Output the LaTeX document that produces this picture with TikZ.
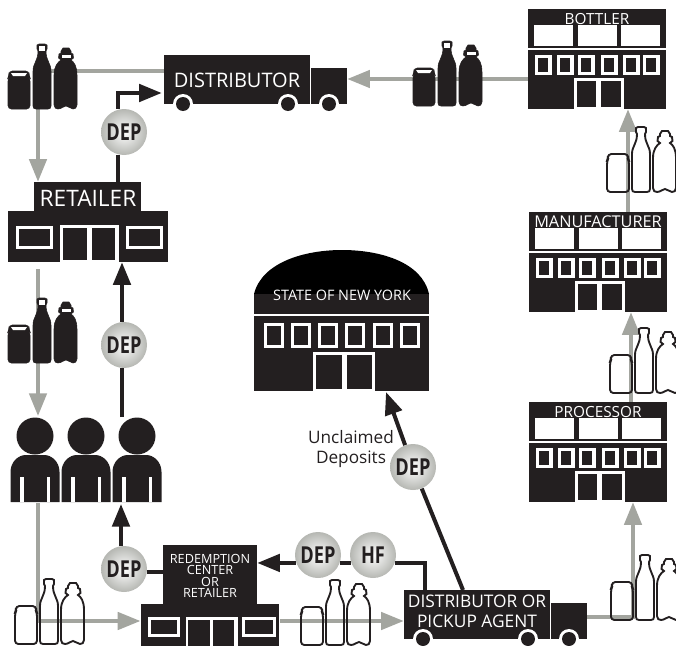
\documentclass[tikz,border=0pt]{standalone}
\usepackage{fontspec}
\setmainfont{Open Sans}
\newfontfamily\depfont[FakeStretch=0.78]{Open Sans}
\usetikzlibrary{arrows.meta}
\definecolor{ink}{HTML}{231F20}
\definecolor{rail}{HTML}{A3A59F}
\tikzset{
  blackbox/.style={fill=ink,inner sep=0pt},
  whitename/.style={text=white,inner sep=0pt,align=center},
  railline/.style={draw=rail,line width=2.7pt},
  railarrow/.style={railline,-{Triangle[length=17pt,width=13pt]}},
  inkline/.style={draw=ink,line width=3pt},
  inkarrow/.style={inkline,-{Triangle[length=17pt,width=13pt]}},
  token/.style={circle,minimum size=34.5pt,inner sep=0pt,text=ink,
    inner color=white,outer color=rail!80!white,font=\depfont\bfseries\fontsize{17.5}{18}\selectfont},
  solidset/.style={fill=ink,draw=ink,line width=0.4pt},
  lineset/.style={draw=ink,line width=1.4pt},
  pics/bottles/.style={code={
    % jar
    \path[pic actions,rounded corners=2.5] (1,-38) -- (21,-38) -- (21,-33) -- (22,-31)
      -- (22,0) -- (0,0) -- (0,-31) -- (1,-33) -- cycle;
    % glass bottle
    \path[pic actions] (25,-3) -- (25,-38) .. controls (25,-46) and (30,-48) .. (30,-58)
      -- (29,-60) -- (29,-64) -- (31,-65) -- (37,-65) -- (39,-64) -- (39,-60) -- (38,-58)
      .. controls (38,-48) and (43,-46) .. (43,-38) -- (43,-3)
      .. controls (43,-1) and (42,0) .. (40,0) -- (28,0) .. controls (26,0) and (25,-1) .. (25,-3) -- cycle;
    % plastic bottle
    \path[pic actions] (46,-4) -- (46,-34) .. controls (46,-43) and (50,-47) .. (53,-49)
      -- (50.5,-51) -- (51,-55) -- (53,-56) -- (53,-58) -- (55,-61) -- (61,-61) -- (63,-58)
      -- (63,-56) -- (65,-55) -- (65.5,-51) -- (63,-49) .. controls (66,-47) and (69,-43) .. (69,-34)
      -- (69,-4) .. controls (69,-1) and (67,0) .. (65,0) .. controls (62,0) and (61,-3) .. (58,-3)
      .. controls (55,-3) and (54,0) .. (50,0) .. controls (48,0) and (46,-1) .. (46,-4) -- cycle;
  }},
  pics/glints/.style={code={
    \fill[white] (3,-36) -- (19,-36) -- (17,-33) -- (5,-33) -- cycle;
    \fill[white] (31,-63) rectangle (37,-58.5);
    \fill[white] (53.5,-54.5) rectangle (62.5,-51);
  }},
  pics/factory/.style={code={
    \node[blackbox,minimum width=103.5pt,minimum height=75pt] (-body) at (69,50) {};
    \foreach \wx in {6,50,93} { \fill[white] (\wx,16) rectangle ++(39,21); }
    \draw[white,line width=0.8pt] (0,40) -- (138,40);
    \foreach \wx in {8.6,30.6,51.6,74.6,96.6,116.6} { \draw[white,line width=2.4pt] (\wx,47.6) rectangle ++(13.3,16.8); }
    \fill[white] (46,69) rectangle (96,100);
    \fill[ink] (49,72) rectangle (68,98);
    \fill[ink] (73,72) rectangle (93,98);
    \node[whitename] (-name) at (69,10) {#1};
  }},
  pics/truck/.style 2 args={code={
    \node[blackbox,minimum width=109.5pt,minimum height=36.75pt] (-body) at (73,24.5) {};
    \node[blackbox,minimum width=27pt,minimum height=27pt] (-cab) at (165,31) {};
    \node[whitename] (-name) at (73,#2) {#1};
    \foreach \wx in {19,124,165} {
      \fill[white] (\wx,49) circle (10);
      \fill[ink] (\wx,49) circle (7);
    }
  }},
  pics/person/.style={code={
    \node[circle,fill=ink,minimum size=27.75pt,inner sep=0pt] (-head) at (0,0) {};
    \fill[ink] (-24.5,66) -- (-24.5,36) .. controls (-24.5,26) and (-17,19) .. (-9,19)
      -- (9,19) .. controls (17,19) and (24.5,26) .. (24.5,36) -- (24.5,66) -- cycle;
    \fill[white] (-14.6,41) rectangle (-11.3,66);
    \fill[white] (12,41) rectangle (15.3,66);
  }},
}
\begin{document}
\begin{tikzpicture}[x=0.75pt,y=-0.75pt]
  \useasboundingbox (0,0) rectangle (676,646);
  \clip (0,0) rectangle (676,646);

  % plants on the right
  \pic[font=\fontsize{11.5}{12}\selectfont] (bottler) at (528,9) {factory=BOTTLER};
  \pic[font=\fontsize{12.2}{12}\selectfont] (manufacturer) at (529,212) {factory=MANUFACTURER};
  \pic[font=\fontsize{11.5}{12}\selectfont] (processor) at (529,402) {factory=PROCESSOR};

  % trucks
  \pic[font=\fontsize{15}{18}\selectfont] (distributor) at (164,55) {truck={DISTRIBUTOR}{25}};
  \pic[font=\fontsize{13}{15}\selectfont] (agent) at (404,590) {truck={DISTRIBUTOR OR\\PICKUP AGENT}{21.5}};

  % retailer
  \node[blackbox,minimum width=120pt,minimum height=38.25pt] (retailer) at (88,236.5) {};
  \node[blackbox,minimum width=80.25pt,minimum height=21.75pt] (retailertop) at (87.5,196.5) {};
  \node[whitename,font=\fontsize{17}{18}\selectfont] (retailername) at (88,198) {RETAILER};
  \draw[white,line width=2.2pt] (17.5,227.5) rectangle (51.5,247.5);
  \draw[white,line width=2.2pt] (127.5,227.5) rectangle (161.5,247.5);
  \fill[white] (60,225) rectangle (119,262);
  \fill[ink] (63,228) rectangle (87,260);
  \fill[ink] (92,228) rectangle (115,260);

  % redemption center
  \node[blackbox,minimum width=104pt,minimum height=31.5pt] (redemption) at (210,625) {};
  \node[blackbox,minimum width=70.5pt,minimum height=44.25pt] (redemptiontop) at (210,574.5) {};
  \node[whitename,font=\fontsize{9.5}{8.6}\selectfont] (redemptionname) at (210,576) {REDEMPTION\\CENTER\\OR\\RETAILER};
  \draw[white,line width=2pt] (149.3,618.3) rectangle (178.7,635.7);
  \draw[white,line width=2pt] (243.3,618.3) rectangle (274.7,635.7);
  \fill[white] (186,617) rectangle (238,646);
  \fill[ink] (188,620) rectangle (210,646);
  \fill[ink] (213,620) rectangle (234,646);

  % state building
  \fill[black] (254,294) .. controls (262,262) and (305,250) .. (342,250)
    .. controls (380,250) and (422,262) .. (429,294) -- cycle;
  \node[blackbox,minimum width=131.25pt,minimum height=15pt] (statetop) at (341.5,304) {};
  \node[blackbox,minimum width=131.25pt,minimum height=56.25pt] (state) at (341.5,353.5) {};
  \node[whitename,font=\fontsize{10.8}{12}\selectfont] (statename) at (342,295) {STATE OF NEW YORK};
  \foreach \wx in {265.7,292.7,319.7,346.7,374.7,401.7} { \draw[white,line width=2.6pt] (\wx,324.7) rectangle ++(17,21.6); }
  \fill[white] (313,352) rectangle (375,391);
  \fill[ink] (316,355) rectangle (342,389);
  \fill[ink] (347,355) rectangle (372,389);

  % people
  \pic (person1) at (35,436) {person};
  \pic (person2) at (86,436) {person};
  \pic (person3) at (137,436) {person};

  % deposit tokens
  \node[token] (deptruck) at (124,132) {DEP};
  \node[token] (depretail) at (124,345) {DEP};
  \node[token] (depreturn) at (124,569) {DEP};
  \node[token] (depagent) at (318,555) {DEP};
  \node[token] (hf) at (373,555) {HF};
  \node[token] (depstate) at (413,467) {DEP};
  \node[text=ink,align=center,inner sep=0pt,font=\fontsize{12.9}{15}\selectfont]
    (unclaimed) at (351,449) {Unclaimed\\Deposits};

  % bottle flow
  \draw[railarrow] (distributor-body.west |- 0,71) -- (38,71) -- (38,0 |- retailertop.north);
  \draw[railarrow] (bottler-body.west |- 0,79) -- (distributor-cab.east |- 0,79);
  \draw[railarrow] (628,0 |- manufacturer-body.north) -- (628,0 |- bottler-body.south);
  \draw[railarrow] (631,0 |- processor-body.north) -- (631,0 |- manufacturer-body.south);
  \draw[railarrow] (agent-cab.east |- 0,617) -- (633,617) -- (633,0 |- processor-body.south);
  \coordinate (retailerexit) at (38,269);
  \coordinate (peopletop) at (38,416);
  \draw[railarrow] (retailerexit) -- (peopletop);
  \coordinate (peopleexit) at (38,503);
  \draw[railarrow] (peopleexit) -- (38,621) -- (redemption.west |- 0,621);
  \draw[railarrow] (redemption.east |- 0,621) -- (agent-body.west |- 0,621);

  % deposit flow
  \draw[inkarrow,shorten >=1.5pt] (deptruck.north -| 118,0) -- (118,93) -- (distributor-body.west |- 0,93);
  \draw[inkline] (118,0 |- retailertop.north) -- (deptruck.south -| 118,0);
  \draw[inkarrow] (depretail.north -| 122,0) -- (122,0 |- retailer.south);
  \draw[inkline] (122,0 |- person3-head.north) -- (depretail.south -| 122,0);
  \draw[inkarrow] (121,0 |- depreturn.north) -- (121,504);
  \draw[inkline] (depreturn.-8) -- (redemptiontop.west |- depreturn.-8);
  \draw[inkline] (425,0 |- agent-body.north) -- (425,0 |- hf.-20) -- (hf.-20);
  \draw[inkline] (hf.200) -- (depagent.-20);
  \draw[inkarrow] (depagent.200) -- (redemptiontop.east |- depagent.200);
  \coordinate (agenttop) at (463,590);
  \coordinate (statefoot) at (386,392);
  \draw[inkline] (agenttop) -- (depstate);
  \draw[inkarrow] (depstate) -- (statefoot);

  % bottle sets
  \foreach \sx/\sy in {8/109,8/363,413/106} {
    \pic[solidset] at (\sx,\sy) {bottles};
    \pic at (\sx,\sy) {glints};
  }
  \foreach \sx/\sy in {15/644,301/645,607/192,610/393,611/620} {
    \pic[lineset] at (\sx,\sy) {bottles};
  }
\end{tikzpicture}
\end{document}
